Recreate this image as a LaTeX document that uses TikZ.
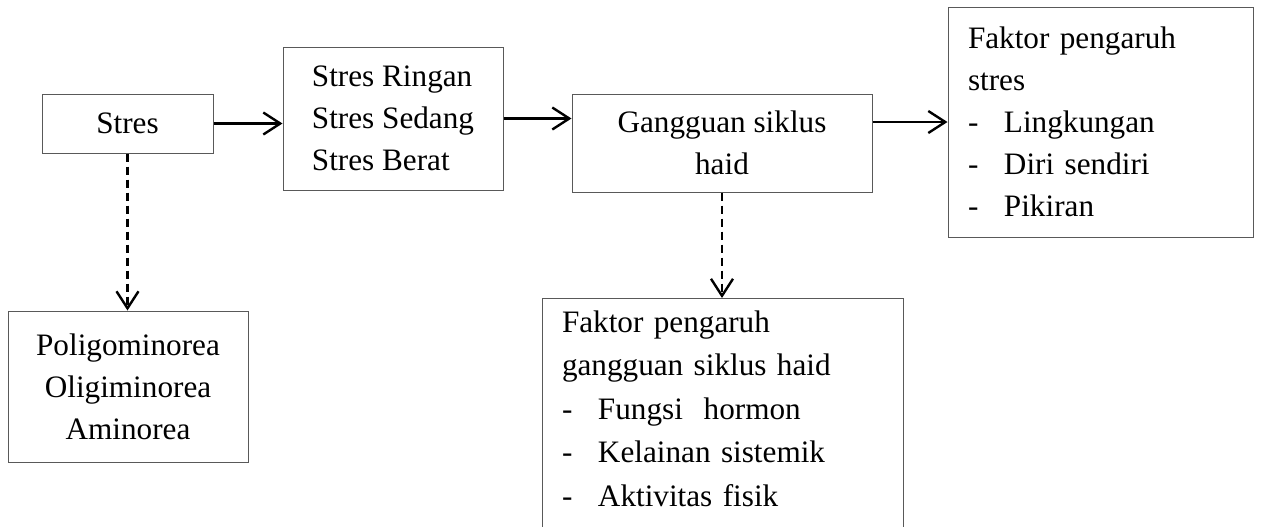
\documentclass[tikz,border=0pt]{standalone}
\usepackage{fontspec}
\setmainfont{Liberation Serif}
\usetikzlibrary{arrows.meta, positioning}

\newcommand{\butir}[1]{\makebox[18pt][l]{-}#1}

\begin{document}
\begin{tikzpicture}[x=0.5pt, y=-0.5pt,
    font=\fontsize{15.6}{21}\selectfont,
    kotak/.style={draw=black!65, line width=0.5pt, inner sep=0pt},
    panah/.style={line width=1.2pt, -{Straight Barb[length=8.5pt, width=11pt]}},
    putus/.style={panah, dash pattern=on 4pt off 2.5pt}]
    \clip (0,0) rectangle (1266,526);

    % Nodes
    \node[kotak, minimum width=85.5pt, minimum height=29.5pt] (stres) at (127.5,123.5) {Stres};
    \node[kotak, minimum width=110pt, minimum height=71.5pt, align=left] (tingkat) at (393,118.5)
        {Stres Ringan\\Stres Sedang\\Stres Berat};
    \node[kotak, minimum width=150pt, minimum height=49pt, align=center] (gangguan) at (722,143)
        {Gangguan siklus\\haid};
    \node[kotak, minimum height=115pt, text width=132.5pt, inner xsep=10pt, align=left] (faktorStres) at (1100.5,122)
        {Faktor pengaruh\\stres\\\butir{Lingkungan}\\\butir{Diri sendiri}\\\butir{Pikiran}};
    \node[kotak, minimum width=120pt, minimum height=75.5pt, align=center] (jenis) at (128,386.5)
        {Poligominorea\\Oligiminorea\\Aminorea};
    \node[kotak, anchor=north, text width=160.5pt, inner xsep=10pt, inner ysep=6pt, align=left,
        font=\fontsize{15.6}{21.8}\selectfont] (faktorHaid) at (722.5,298)
        {Faktor pengaruh\\gangguan siklus haid\\\butir{Fungsi\ \ hormon}\\\butir{Kelainan sistemik}\\\butir{Aktivitas fisik}\rule[-30pt]{0pt}{0pt}};

    % Arrows
    \draw[panah] (stres.east) -- (stres.east -| tingkat.west);
    \draw[panah] (tingkat.east) -- (tingkat.east -| gangguan.west);
    \draw[panah] (gangguan.east |- faktorStres.west) -- (faktorStres.west);
    \draw[putus] (stres.south) -- (stres.south |- jenis.north);
    \draw[putus] (gangguan.south) -- (gangguan.south |- faktorHaid.north);
\end{tikzpicture}
\end{document}
